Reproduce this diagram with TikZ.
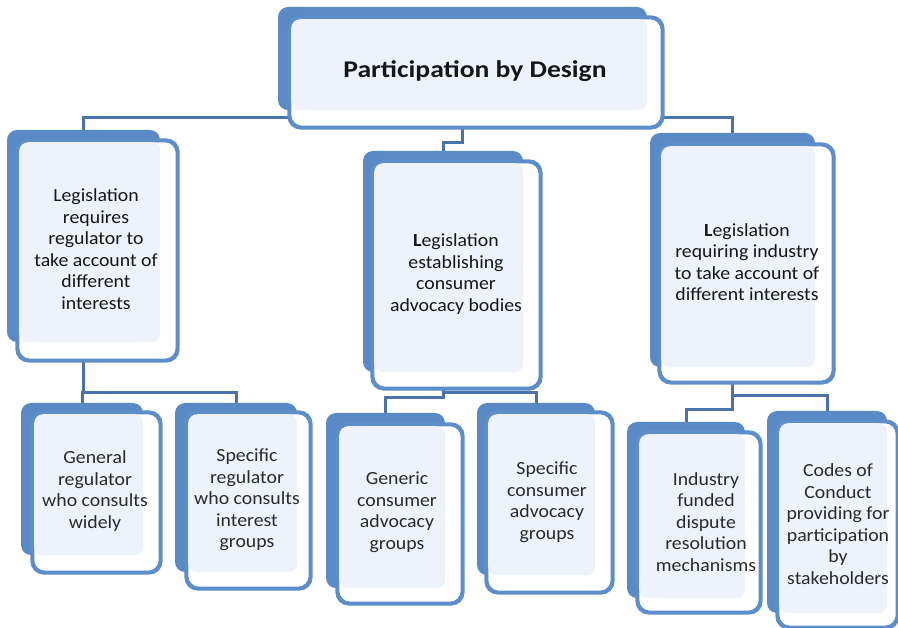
\documentclass[tikz,border=0pt]{standalone}
\usepackage{fontspec}
\setmainfont{Carlito}[FakeStretch=1.07]
\newfontfamily\titlefont{Carlito}[FakeStretch=1.15]
\usetikzlibrary{fit}
\definecolor{backblue}{HTML}{5A8AC6}
\definecolor{edgeblue}{HTML}{5E8ECA}
\definecolor{connblue}{HTML}{4A72AC}
\definecolor{lightfill}{HTML}{EEF2FA}
\definecolor{txtdark}{HTML}{161616}
\definecolor{txtgray}{HTML}{2A2A2A}
\pgfdeclarelayer{bg}
\pgfsetlayers{bg,main}
\tikzset{
  backbox/.style={fill=backblue, draw=none, rounded corners=10pt, inner sep=0pt},
  frontbox/.style={fill=white, draw=edgeblue, line width=2.6pt, rounded corners=12pt, inner sep=0pt},
  frontedge/.style={draw=edgeblue, line width=2.6pt, rounded corners=12pt},
  conn/.style={draw=connblue, line width=3pt},
  boxtext/.style={align=center, text=txtdark, font=\fontsize{18.5}{21.5}\selectfont, inner sep=0pt},
  subtext/.style={align=center, text=txtgray, font=\fontsize{18.5}{21.5}\selectfont, inner sep=0pt},
}
% name, back x1 y1 x2 y2, front x1 y1 x2 y2
\newcommand\dbox[9]{%
  \coordinate (#1b1) at (#2,#3);
  \coordinate (#1b2) at (#4,#5);
  \coordinate (#1f1) at (#6,#7);
  \coordinate (#1f2) at (#8,#9);
  \node[backbox, fit=(#1b1)(#1b2)] (#1B) {};
  \node[frontbox, fit=(#1f1)(#1f2)] (#1F) {};
  \fill[lightfill, rounded corners=9pt] ([shift={(2.5pt,-2.5pt)}]#1F.north west) rectangle (#1B.south east);
  \draw[frontedge] (#1F.north west) rectangle (#1F.south east);
}
\begin{document}
\begin{tikzpicture}[x=1pt,y=-1pt]
\useasboundingbox (0,0) rectangle (898,628);

\dbox{top}{278}{7}{647}{110}{290}{18}{662}{127}
\dbox{Lone}{7}{130}{160}{342}{18}{141}{177}{360}
\dbox{Mone}{363}{151}{523}{372}{373}{162}{540}{388}
\dbox{Rone}{650}{133}{815}{367}{660}{145}{833}{382}
\dbox{Bone}{21}{403}{143}{555}{33}{413}{160}{572}
\dbox{Btwo}{175}{403}{297}{572}{187}{413}{310}{588}
\dbox{Bthree}{326}{413}{445}{588}{338}{425}{462}{603}
\dbox{Bfour}{477}{403}{595}{575}{487}{413}{612}{592}
\dbox{Bfive}{627}{422}{745}{598}{638}{433}{760}{612}
\dbox{Bsix}{767}{411}{887}{613}{778}{422}{897}{627}

\node[text=txtdark, inner sep=0pt, font=\titlefont\bfseries\fontsize{24}{28}\selectfont] (topT) at (475,71) {Participation by Design};

\node[boxtext] (LoneT) at (96,249) {Legislation\\requires\\regulator to\\take account of\\different\\interests};
\node[boxtext] (MoneT) at (456,274) {{\bfseries L}egislation\\establishing\\consumer\\advocacy bodies};
\node[boxtext] (RoneT) at (747,262) {{\bfseries L}egislation\\requiring industry\\to take account of\\different interests};

\node[subtext] (BoneT) at (95,491) {General\\regulator\\who consults\\widely};
\node[subtext] (BtwoT) at (247,500) {Specific\\regulator\\who consults\\interest\\groups};
\node[subtext] (BthreeT) at (397,512) {Generic\\consumer\\advocacy\\groups};
\node[subtext] (BfourT) at (547,502) {Specific\\consumer\\advocacy\\groups};
\node[subtext] (BfiveT) at (706,522) {Industry\\funded\\dispute\\resolution\\mechanisms};
\node[subtext] (BsixT) at (838,524) {Codes of\\Conduct\\providing for\\participation\\by\\stakeholders};

\begin{pgfonlayer}{bg}
  \draw[conn] (topB.south) -- (topB.south |- 0,118) -| (LoneB.north);
  \draw[conn] (topB.south) -- (topB.south |- 0,118) -| (RoneB.north);
  \draw[conn] (topB.south) -- (topB.south |- 0,143) -| (MoneB.north);
  \draw[conn] (LoneB.south) -- (LoneB.south |- 0,393) -| (BoneB.north);
  \draw[conn] (LoneB.south) -- (LoneB.south |- 0,393) -| (BtwoB.north);
  \draw[conn] (MoneB.south) -- (MoneB.south |- 0,398) -| (BthreeB.north);
  \draw[conn] (MoneB.south) -- (MoneB.south |- 0,393) -| (BfourB.north);
  \draw[conn] (RoneB.south) -- (RoneB.south |- 0,410) -| (BfiveB.north);
  \draw[conn] (RoneB.south) -- (RoneB.south |- 0,396) -| (BsixB.north);
\end{pgfonlayer}
\end{tikzpicture}
\end{document}
